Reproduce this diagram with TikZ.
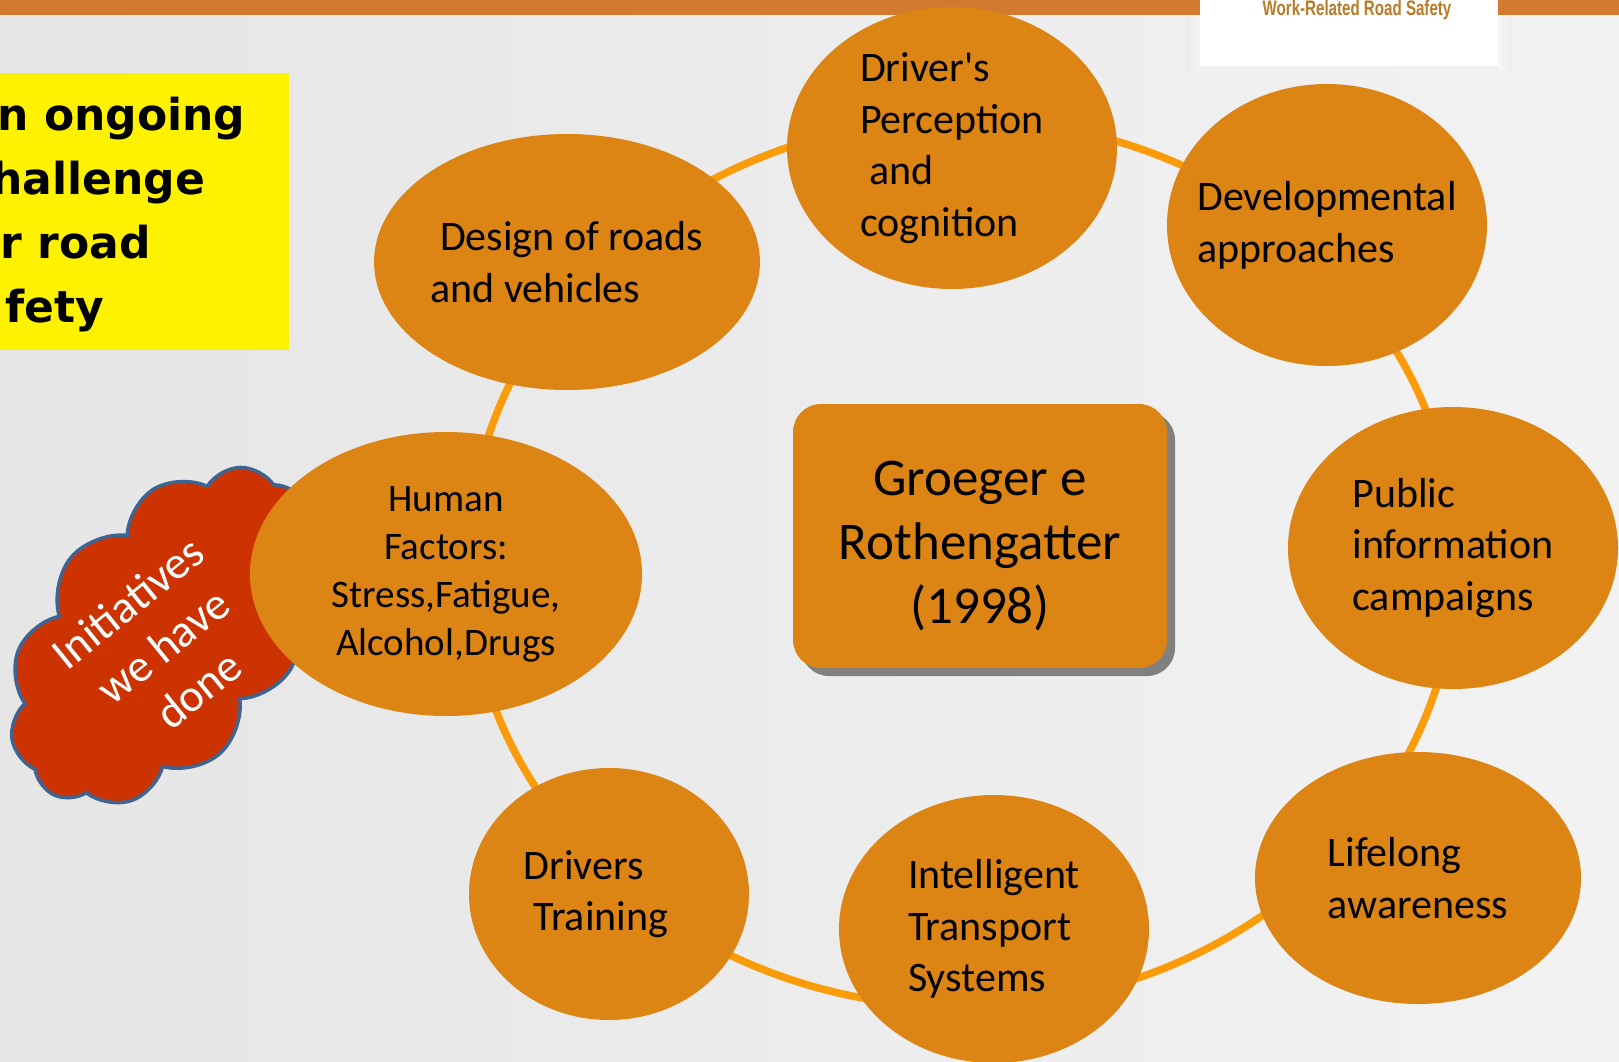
\documentclass[tikz,border=0pt]{standalone}
\usepackage{fontspec}
\setmainfont{Carlito}[Ligatures=TeXOff]
\newfontfamily\headfont{DejaVu Sans}
\newfontfamily\tabfont[FakeStretch=0.72]{Liberation Sans}
\usetikzlibrary{shapes.geometric,shapes.symbols,shadows}
\definecolor{bubble}{RGB}{220,133,20}
\definecolor{ringline}{RGB}{250,155,10}
\definecolor{topbar}{RGB}{209,122,48}
\definecolor{cloudred}{RGB}{204,51,0}
\definecolor{cloudline}{RGB}{62,100,148}
\definecolor{tabtext}{RGB}{185,123,37}

\begin{document}
\begin{tikzpicture}[x=1pt,y=-1pt,
    bubble/.style={ellipse, fill=bubble, inner sep=0pt, align=left,
        font=\fontsize{42}{51.6}\selectfont},
    headline/.style={anchor=base west, font=\headfont\bfseries\fontsize{44}{64}\selectfont}]
    \useasboundingbox (0,0) rectangle (1619,1061);
    \clip (0,0) rectangle (1619,1061);
    % background and top bar
    \shade[left color=black!10, middle color=black!2, right color=black!5] (0,0) rectangle (1619,1061);
    \fill[topbar] (0,0) rectangle (1619,15);
    \shade[left color=black!9, right color=black!1, opacity=0.6] (1186,15) rectangle (1200,70);
    \shade[left color=black!1, right color=black!9, opacity=0.6] (1498,15) rectangle (1512,70);
    \fill[white] (1200,0) rectangle (1498,66);
    \node[anchor=base, text=tabtext, font=\tabfont\bfseries\fontsize{21}{21}\selectfont] (tabtitle) at (1357,15) {Work-Related Road Safety};
    % yellow box
    \fill[yellow] (0,73) rectangle (289,350);
    \node[headline] (line1) at (-6,130) {n ongoing};
    \node[headline] (line2) at (-12,194) {hallenge};
    \node[headline] (line3) at (-3,258) {r road};
    \node[headline] (line4) at (2,322) {fety};
    % ring
    \draw[ringline, line width=7.5pt] (962,563) ellipse [x radius=494, y radius=444];
    % cloud
    \node[cloud, cloud puffs=11, cloud puff arc=115, aspect=1.6, fill=cloudred, draw=cloudline,
        line width=3.5pt, inner sep=0pt, minimum width=390pt, minimum height=245pt, rotate=50] (initiatives) at (165,636) {};
    \node[rotate=39, text=white, align=center, font=\fontsize{46}{56}\selectfont] (initext) at (163,646) {Initiatives\\we have\\done};
    % ellipses round the ring
    \node[bubble, minimum width=330pt, minimum height=282pt] (perception) at (952,148) {\rule{0pt}{18pt}Driver's\\Perception\\~and\\cognition};
    \node[bubble, minimum width=320pt, minimum height=282pt, inner xsep=-40pt] (developmental) at (1327,225) {Developmental\\approaches};
    \node[bubble, minimum width=330pt, minimum height=282pt] (campaigns) at (1453,548) {Public\\information\\campaigns};
    \node[bubble, minimum width=326pt, minimum height=252pt] (lifelong) at (1418,878) {Lifelong\\awareness};
    \node[bubble, minimum width=310pt, minimum height=268pt] (transport) at (994,929) {Intelligent\\Transport\\Systems};
    \node[bubble, minimum width=280pt, minimum height=252pt] (training) at (609,894) {Drivers\\~Training\hspace*{26pt}};
    \node[bubble, minimum width=392pt, minimum height=284pt, align=center, font=\fontsize{39}{48}\selectfont] (human) at (446,574) {Human\\Factors:\\Stress,Fatigue,\\Alcohol,Drugs};
    \node[bubble, minimum width=378pt, minimum height=256pt] (design) at (567,262) {~Design of roads\\and vehicles};
    % centre box
    \node[fill=bubble, rounded corners=28pt, minimum width=374pt, minimum height=264pt,
        drop shadow={shadow xshift=8pt, shadow yshift=-8pt, fill=black!50, opacity=1}] (source) at (980,536) {};
    \node[align=center, font=\fontsize{53}{64}\selectfont] (sourcetext) at (980,546) {Groeger e\\Rothengatter\\(1998)};
\end{tikzpicture}
\end{document}
